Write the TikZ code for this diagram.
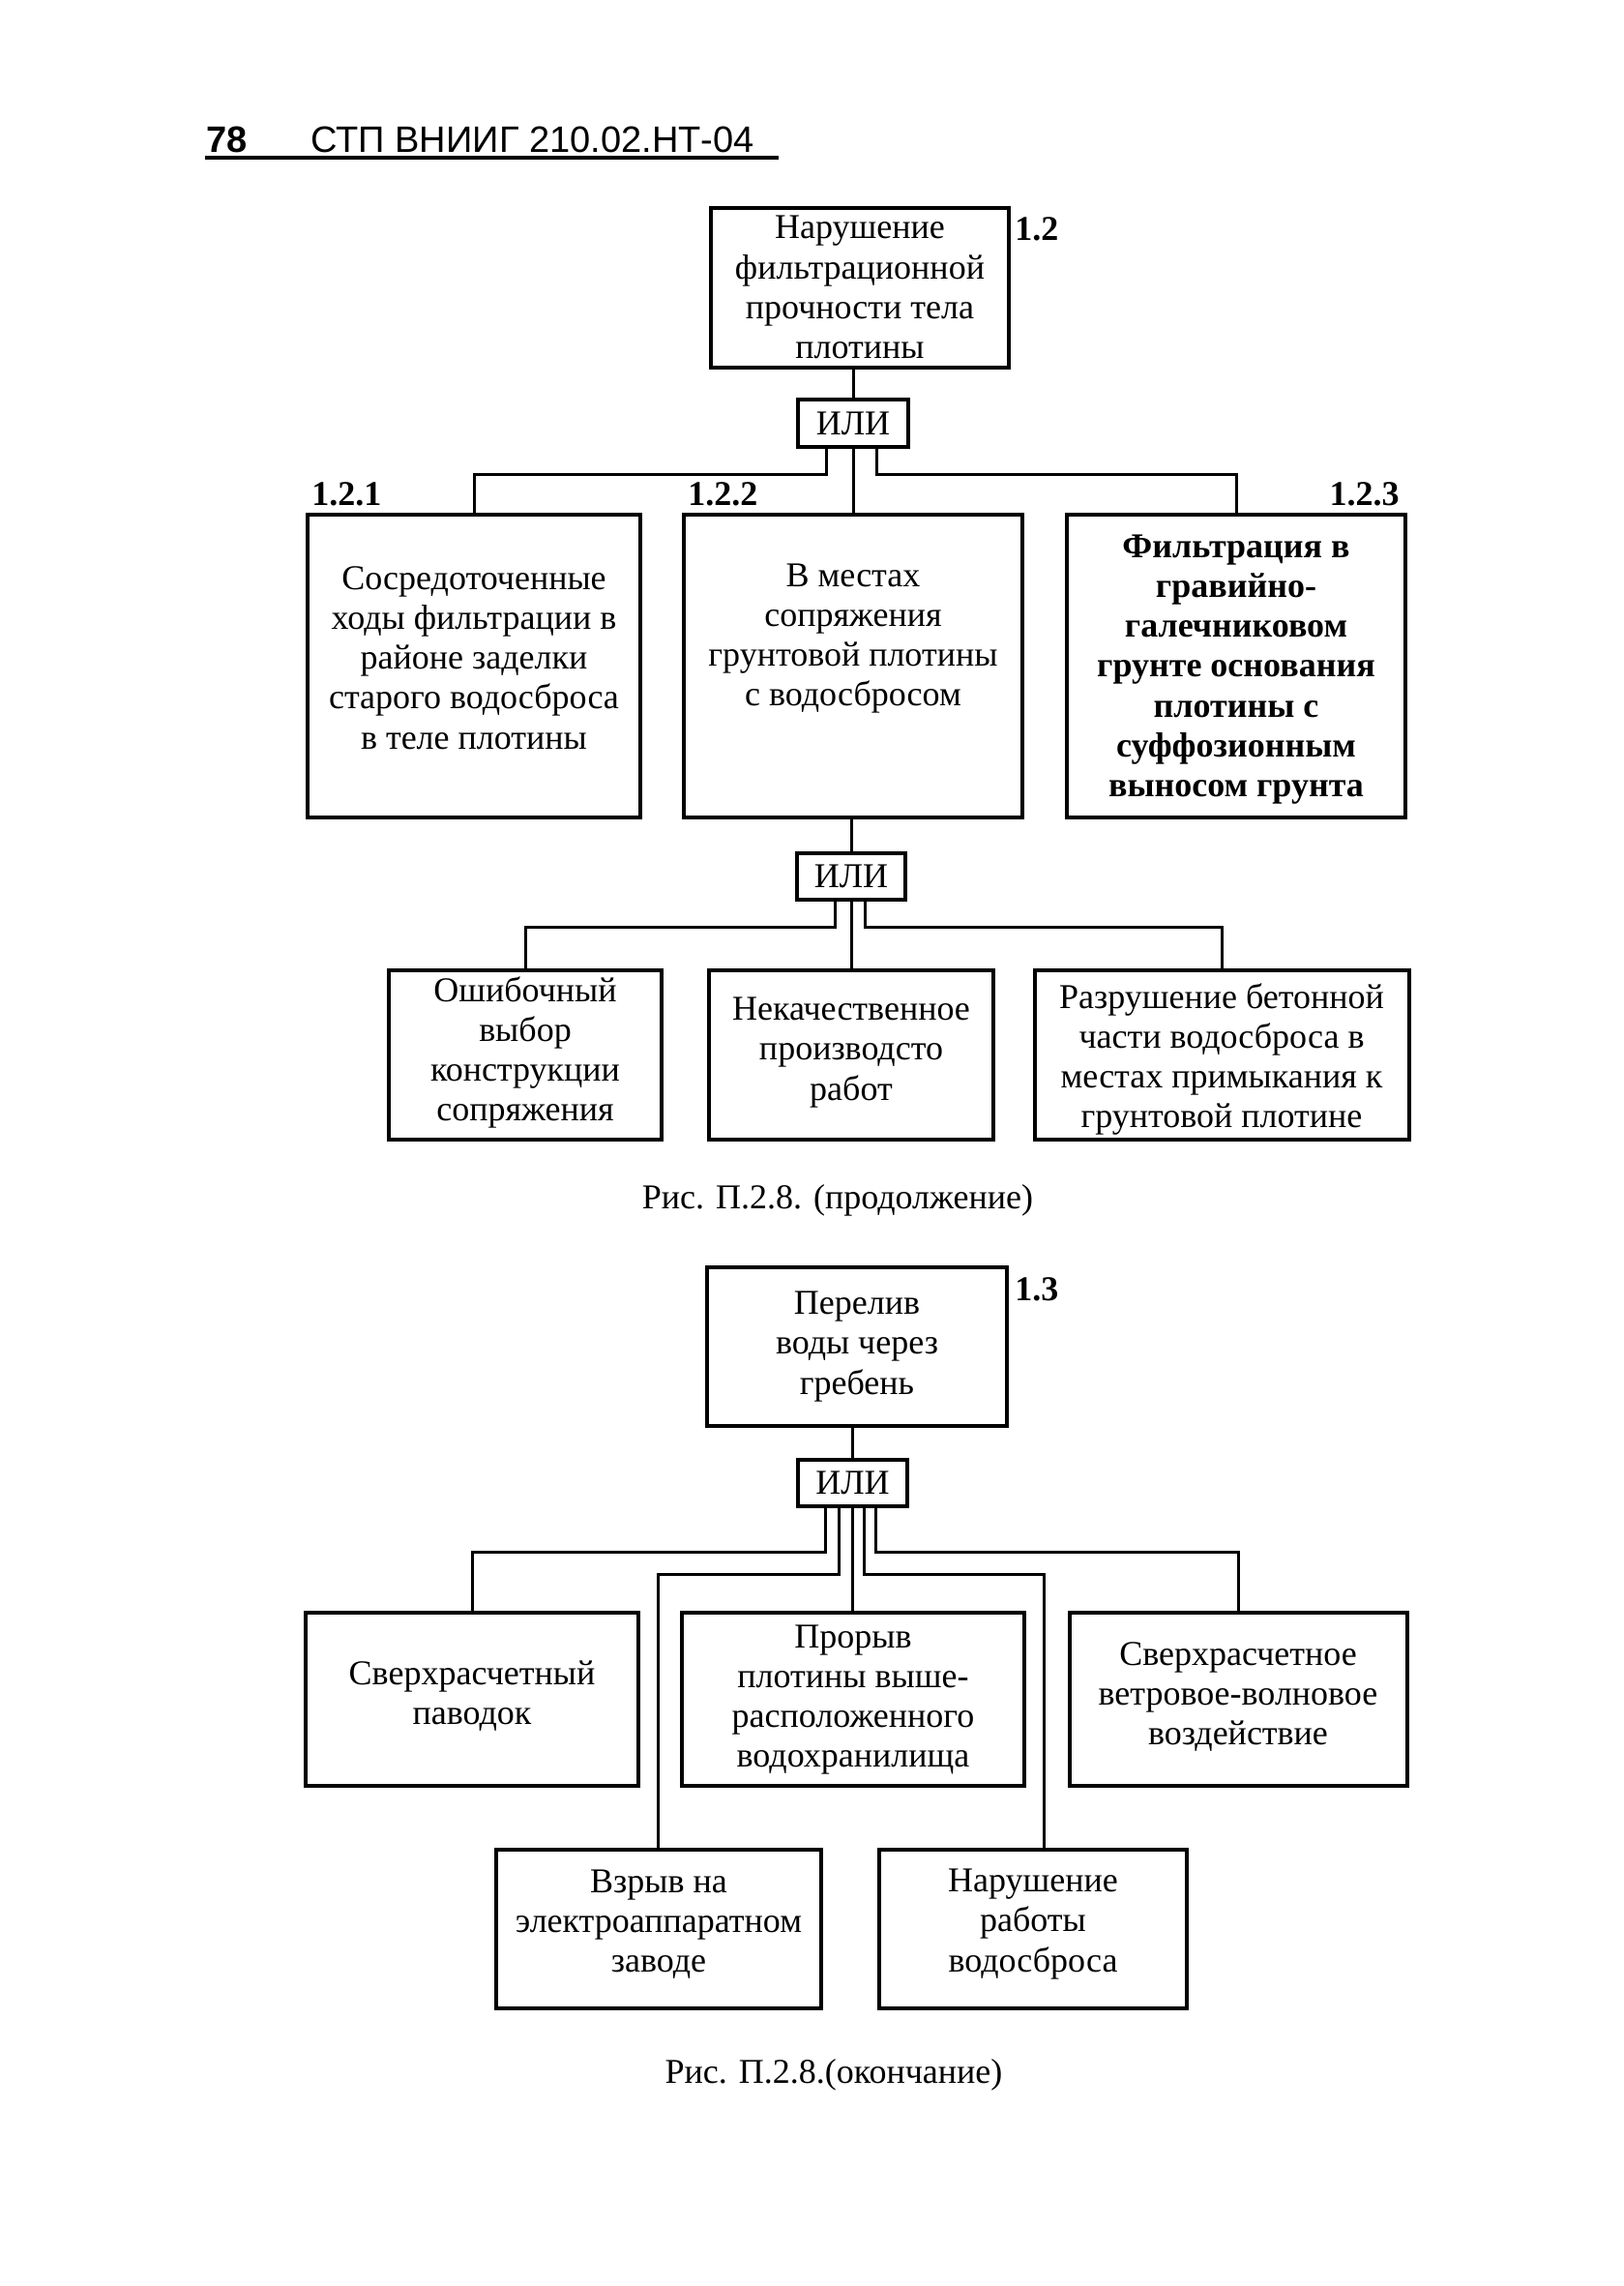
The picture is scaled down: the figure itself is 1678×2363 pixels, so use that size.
\documentclass[tikz,border=0pt]{standalone}
\usepackage{fontspec}
\setmainfont{Liberation Serif}
\newfontfamily\hdrfam{Liberation Sans}
\usetikzlibrary{fit}
\newcommand\txtf{\fontsize{18pt}{20.6pt}\selectfont}
\newcommand\hdrf{\hdrfam\fontsize{19pt}{22pt}\selectfont}
\begin{document}
\begin{tikzpicture}[x=0.5pt,y=-0.5pt,
  box/.style={draw, line width=1.6pt, inner sep=0pt, fit={#1}},
  lbl/.style={inner sep=0pt, font=\txtf\bfseries},
  txt/.style={inner sep=0pt, align=center, font=\txtf},
  btxt/.style={txt, font=\txtf\bfseries},
  conn/.style={line width=1.5pt}]
\fill[white] (0,0) rectangle (1678,2363);
\useasboundingbox (0,0) rectangle (1678,2363);

% header
\node[inner sep=0pt, anchor=base west, font=\hdrf\bfseries] (pg) at (213,157) {78};
\node[inner sep=0pt, anchor=base west, font=\hdrf] (ttl) at (321,157) {СТП ВНИИГ 210.02.НТ-04};
\draw[line width=1.6pt] (212,163) -- (805,163);

% ---------- part 1 ----------
\node[box={(735,215) (1043,380)}] (b12) {};
\node[txt] (t12) at (889,297) {Нарушение\\фильтрационной\\прочности тела\\плотины};
\node[lbl, anchor=base west] (l12) at (1049,248) {1.2};
\node[box={(825,413) (939,462)}] (ili1) {};
\node[txt] (i1) at (ili1.center) {ИЛИ};

\node[box={(318,532) (662,845)}] (b121) {};
\node[txt] (t121) at (490,680) {Сосредоточенные\\ходы фильтрации в\\районе заделки\\старого водосброса\\в теле плотины};
\node[box={(707,532) (1057,845)}] (b122) {};
\node[txt] (t122) at (882,660) {В местах\\сопряжения\\грунтовой плотины\\с водосбросом};
\node[box={(1103,532) (1453,845)}] (b123) {};
\node[btxt] (t123) at (1278,692) {Фильтрация в\\гравийно-\\галечниковом\\грунте основания\\плотины с\\суффозионным\\выносом грунта};
\node[lbl, anchor=base west] (l121) at (322,522) {1.2.1};
\node[lbl, anchor=base west] (l122) at (711,522) {1.2.2};
\node[lbl, anchor=base east] (l123) at (1447,522) {1.2.3};

\coordinate (h1) at (0,490);
\draw[conn] (ili1.north) -- (ili1.north |- b12.south);
\draw[conn] ([xshift=-14pt]ili1.south) |- (b121.north |- h1) -- (b121.north);
\draw[conn] (ili1.south) -- (ili1.south |- b122.north);
\draw[conn] ([xshift=12pt]ili1.south) |- (b123.north |- h1) -- (b123.north);

\node[box={(824,882) (936,930)}] (ili2) {};
\node[txt] (i2) at (ili2.center) {ИЛИ};
\node[box={(402,1003) (684,1178)}] (b2a) {};
\node[txt] (t2a) at (543,1088) {Ошибочный\\выбор\\конструкции\\сопряжения};
\node[box={(733,1003) (1027,1178)}] (b2b) {};
\node[txt] (t2b) at (880,1088) {Некачественное\\производсто\\работ};
\node[box={(1070,1003) (1457,1178)}] (b2c) {};
\node[txt] (t2c) at (1263,1095) {Разрушение бетонной\\части водосброса в\\местах примыкания к\\грунтовой плотине};

\coordinate (h2) at (0,958);
\draw[conn] (ili2.north) -- (ili2.north |- b122.south);
\draw[conn] ([xshift=-8.5pt]ili2.south) |- (b2a.north |- h2) -- (b2a.north);
\draw[conn] (ili2.south) -- (ili2.south |- b2b.north);
\draw[conn] ([xshift=7pt]ili2.south) |- (b2c.north |- h2) -- (b2c.north);

\node[txt, anchor=base] (cap1) at (866,1249) {Рис. П.2.8. (продолжение)};

% ---------- part 2 ----------
\node[box={(731,1310) (1041,1474)}] (b13) {};
\node[txt] (t13) at (886,1392) {Перелив\\воды через\\гребень};
\node[lbl, anchor=base west] (l13) at (1049,1344) {1.3};
\node[box={(825,1509) (938,1557)}] (ili3) {};
\node[txt] (i3) at (ili3.center) {ИЛИ};

\node[box={(316,1667) (660,1846)}] (b3p) {};
\node[txt] (t3p) at (488,1753) {Сверхрасчетный\\паводок};
\node[box={(705,1667) (1059,1846)}] (b3q) {};
\node[txt] (t3q) at (882,1757) {Прорыв\\плотины выше-\\расположенного\\водохранилища};
\node[box={(1106,1667) (1455,1846)}] (b3r) {};
\node[txt] (t3r) at (1280,1754) {Сверхрасчетное\\ветровое-волновое\\воздействие};
\node[box={(513,1912) (849,2076)}] (b4s) {};
\node[txt] (t4s) at (681,1989) {Взрыв на\\электроаппаратном\\заводе};
\node[box={(909,1912) (1227,2076)}] (b4t) {};
\node[txt] (t4t) at (1068,1989) {Нарушение\\работы\\водосброса};

\coordinate (h3) at (0,1604);
\coordinate (k1) at (680,1627);
\coordinate (k2) at (1079,1627);
\draw[conn] (ili3.north) -- (ili3.north |- b13.south);
\draw[conn] ([xshift=-14pt]ili3.south) |- (b3p.north |- h3) -- (b3p.north);
\draw[conn] ([xshift=-7pt]ili3.south) |- (k1) -- (k1 |- b4s.north);
\draw[conn] (ili3.south) -- (ili3.south |- b3q.north);
\draw[conn] ([xshift=6pt]ili3.south) |- (k2) -- (k2 |- b4t.north);
\draw[conn] ([xshift=12pt]ili3.south) |- (b3r.north |- h3) -- (b3r.north);

\node[txt, anchor=base] (cap2) at (862,2153) {Рис. П.2.8.(окончание)};
\end{tikzpicture}
\end{document}
